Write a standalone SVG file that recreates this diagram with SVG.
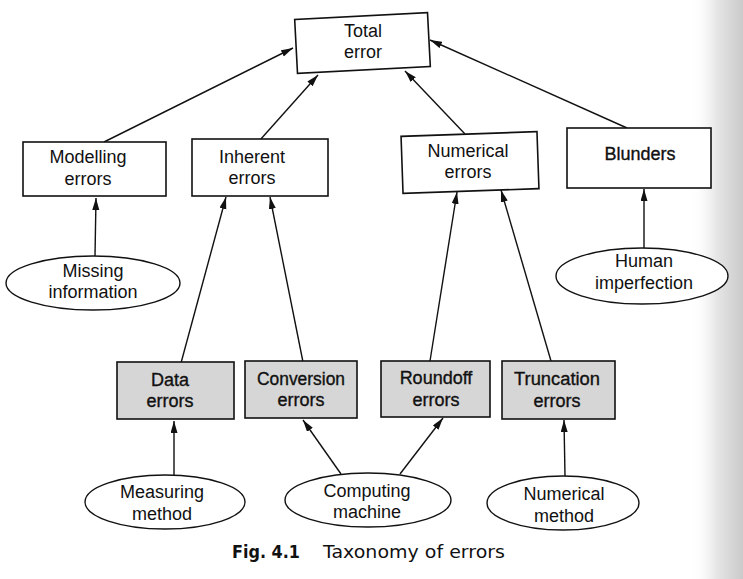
<svg xmlns="http://www.w3.org/2000/svg" width="743" height="579" viewBox="0 0 743 579">
<defs>
<linearGradient id="edge" x1="0" y1="0" x2="1" y2="0">
<stop offset="0" stop-color="#ffffff" stop-opacity="0"/>
<stop offset="0.5" stop-color="#e6e6e6"/>
<stop offset="1" stop-color="#cacaca"/>
</linearGradient>
<marker id="arr" markerUnits="userSpaceOnUse" markerWidth="13" markerHeight="8" refX="12" refY="3.5" orient="auto">
<path d="M0,0 L12,3.5 L0,7 z" fill="#111"/>
</marker>
<style>
.box{fill:#fff;stroke:#111;stroke-width:1.6}
.shade{fill:#d6d6d6;stroke:#111;stroke-width:1.6}
.ell{fill:#fff;stroke:#111;stroke-width:1.4}
.t{font-family:"Liberation Sans",Arial,sans-serif;font-size:18px;fill:#111;text-anchor:middle}
.tb{stroke:#111;stroke-width:0.35}
.c{stroke:#111;stroke-width:1.4;fill:none;marker-end:url(#arr)}
.cap{font-family:"DejaVu Sans",sans-serif;font-size:18px;fill:#111}
</style>
</defs>
<rect width="743" height="579" fill="#fff"/>
<rect x="690" y="0" width="53" height="579" fill="url(#edge)"/>

<g id="connectors">
<line class="c" x1="104" y1="142" x2="293" y2="48"/>
<line class="c" x1="260" y1="140" x2="318" y2="75"/>
<line class="c" x1="465" y1="134" x2="405" y2="71"/>
<line class="c" x1="627" y1="128" x2="430" y2="40"/>
<line class="c" x1="95" y1="256" x2="96" y2="198"/>
<line class="c" x1="644" y1="248" x2="644" y2="189"/>
<line class="c" x1="181" y1="363" x2="226" y2="197"/>
<line class="c" x1="303" y1="362" x2="270" y2="197"/>
<line class="c" x1="430" y1="361" x2="457" y2="192"/>
<line class="c" x1="551" y1="361" x2="501" y2="190"/>
<line class="c" x1="174" y1="475" x2="174" y2="421"/>
<line class="c" x1="341" y1="474" x2="303" y2="420"/>
<line class="c" x1="400" y1="474" x2="443" y2="418"/>
<line class="c" x1="565" y1="476" x2="564" y2="420"/>
</g>

<g id="total">
<rect class="box" x="296" y="16" width="133" height="54" transform="rotate(-3 362.5 43)"/>
<text class="t" x="363" y="37">Total</text>
<text class="t" x="363" y="58">error</text>
</g>
<g id="modelling">
<rect class="box" x="23" y="142" width="143" height="54"/>
<text class="t" x="88" y="163">Modelling</text>
<text class="t" x="88" y="185">errors</text>
</g>
<g id="inherent">
<rect class="box" x="192" y="139" width="136" height="57"/>
<text class="t" x="252" y="163">Inherent</text>
<text class="t" x="252" y="184">errors</text>
</g>
<g id="numerical">
<rect class="box" x="402" y="134" width="136" height="57" transform="rotate(-2 470 162.5)"/>
<text class="t" x="468" y="157">Numerical</text>
<text class="t" x="468" y="178">errors</text>
</g>
<g id="blunders">
<rect class="box" x="567" y="128" width="144" height="60"/>
<text class="t tb" x="640" y="160">Blunders</text>
</g>
<g id="missing">
<ellipse class="ell" cx="93" cy="283" rx="87" ry="27"/>
<text class="t" x="93" y="277">Missing</text>
<text class="t" x="93" y="298">information</text>
</g>
<g id="human">
<ellipse class="ell" cx="642" cy="276" rx="86" ry="28"/>
<text class="t" x="644" y="267">Human</text>
<text class="t" x="644" y="289">imperfection</text>
</g>
<g id="data">
<rect class="shade" x="117" y="362" width="117" height="57"/>
<text class="t tb" x="170" y="386">Data</text>
<text class="t tb" x="170" y="407">errors</text>
</g>
<g id="conversion">
<rect class="shade" x="245" y="361" width="112" height="57"/>
<text class="t tb" x="301" y="385" textLength="88" lengthAdjust="spacingAndGlyphs">Conversion</text>
<text class="t tb" x="301" y="406">errors</text>
</g>
<g id="roundoff">
<rect class="shade" x="381" y="361" width="109" height="56"/>
<text class="t tb" x="436" y="384">Roundoff</text>
<text class="t tb" x="436" y="406">errors</text>
</g>
<g id="truncation">
<rect class="shade" x="502" y="361" width="113" height="58"/>
<text class="t tb" x="557" y="385" textLength="86" lengthAdjust="spacingAndGlyphs">Truncation</text>
<text class="t tb" x="557" y="407">errors</text>
</g>
<g id="measuring">
<ellipse class="ell" cx="165" cy="502" rx="80" ry="27"/>
<text class="t" x="162" y="498">Measuring</text>
<text class="t" x="162" y="520">method</text>
</g>
<g id="computing">
<ellipse class="ell" cx="368" cy="500" rx="83" ry="27"/>
<text class="t" x="367" y="497">Computing</text>
<text class="t" x="367" y="518">machine</text>
</g>
<g id="nummethod">
<ellipse class="ell" cx="563" cy="503" rx="76" ry="27"/>
<text class="t" x="564" y="500">Numerical</text>
<text class="t" x="564" y="522">method</text>
</g>
<g id="caption">
<text class="cap" x="232" y="558" font-weight="bold" textLength="68" lengthAdjust="spacingAndGlyphs">Fig. 4.1</text>
<text class="cap" x="323" y="558" textLength="182" lengthAdjust="spacingAndGlyphs">Taxonomy of errors</text>
</g>
</svg>
